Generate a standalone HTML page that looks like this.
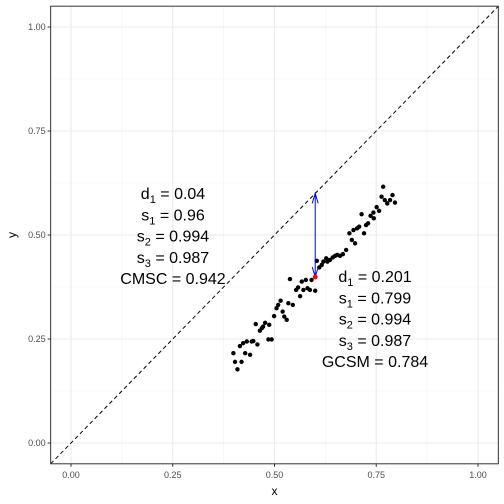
<!DOCTYPE html>
<html><head><meta charset="utf-8"><style>
body{margin:0;background:#fff}
svg{display:block;font-family:"Liberation Sans",sans-serif}
</style></head><body>
<svg id="chart" width="504" height="504" viewBox="0 0 504 504"></svg>
<script>
const xs=[0.399,0.403,0.409,0.419,0.415,0.428,0.423,0.432,0.440,0.444,0.448,0.458,0.454,0.464,0.469,0.472,0.477,0.487,0.485,0.493,0.499,0.505,0.509,0.515,0.520,0.524,0.530,0.534,0.545,0.538,0.553,0.558,0.563,0.567,0.571,0.577,0.581,0.587,0.591,0.600,0.604,0.610,0.616,0.620,0.627,0.630,0.636,0.643,0.649,0.654,0.661,0.668,0.676,0.684,0.690,0.694,0.698,0.703,0.708,0.714,0.720,0.725,0.730,0.736,0.743,0.744,0.751,0.757,0.763,0.767,0.771,0.777,0.784,0.790,0.796];
const ys=[0.216,0.195,0.177,0.195,0.233,0.216,0.240,0.244,0.212,0.244,0.245,0.237,0.286,0.270,0.276,0.280,0.289,0.284,0.249,0.249,0.305,0.324,0.332,0.342,0.316,0.304,0.296,0.336,0.332,0.394,0.368,0.374,0.353,0.388,0.368,0.392,0.372,0.368,0.392,0.366,0.438,0.422,0.428,0.436,0.444,0.436,0.440,0.446,0.450,0.452,0.450,0.454,0.464,0.504,0.488,0.512,0.480,0.516,0.520,0.550,0.504,0.524,0.528,0.546,0.554,0.540,0.567,0.558,0.592,0.616,0.584,0.576,0.584,0.596,0.578];
const ticks=[0,0.25,0.5,0.75,1];
const tickLabels=["0.00","0.25","0.50","0.75","1.00"];
const redPoint=[0.6,0.399];
const arrowTop=0.6;
const leftText=[["d","1","0.04"],["s","1","0.96"],["s","2","0.994"],["s","3","0.987"],["CMSC","","0.942"]];
const rightText=[["d","1","0.201"],["s","1","0.799"],["s","2","0.994"],["s","3","0.987"],["GCSM","","0.784"]];
const X=v=>71+v*407, Y=v=>443-v*416;
const L=X(-0.05),R=X(1.05),T=Y(1.05),B=Y(-0.05);
const svg=document.getElementById('chart');const NS='http://www.w3.org/2000/svg';
function mk(t,a,p){const e=document.createElementNS(NS,t);for(const k in a)e.setAttribute(k,a[k]);(p||svg).appendChild(e);return e;}
let e;
// minor grid
for(let i=0;i<4;i++){const m=(ticks[i]+ticks[i+1])/2;
e=mk('line',{x1:X(m),x2:X(m),y1:T,y2:B,stroke:'#f2f2f2','stroke-width':0.6});

e=mk('line',{x1:L,x2:R,y1:Y(m),y2:Y(m),stroke:'#f2f2f2','stroke-width':0.6});
}
ticks.forEach((t,i)=>{
e=mk('line',{x1:X(t),x2:X(t),y1:T,y2:B,stroke:'#ebebeb','stroke-width':1.1});

e=mk('line',{x1:L,x2:R,y1:Y(t),y2:Y(t),stroke:'#ebebeb','stroke-width':1.1});

e=mk('line',{x1:X(t),x2:X(t),y1:B,y2:B+3,stroke:'#333'});

e=mk('line',{x1:L-3,x2:L,y1:Y(t),y2:Y(t),stroke:'#333'});

e=mk('text',{x:X(t),y:B+14,'text-anchor':'middle','font-size':9,fill:'#4d4d4d'});e.textContent=tickLabels[i];

e=mk('text',{x:L-5,y:Y(t)+3,'text-anchor':'end','font-size':9,fill:'#4d4d4d'});e.textContent=tickLabels[i];

});
e=mk('line',{x1:L,y1:Y(-0.05*416/407+0),x2:R,y2:Y(1.05),stroke:'#000','stroke-dasharray':'4,3','stroke-width':1});
e.setAttribute('x1',X(-0.05));e.setAttribute('y1',Y(-0.05));e.setAttribute('x2',X(1.05));e.setAttribute('y2',Y(1.05));

xs.forEach((x,i)=>{e=mk('circle',{cx:X(x),cy:Y(ys[i]),r:2.2,fill:'#000'});
});
const ax=X(redPoint[0]),ay1=Y(arrowTop),ay2=Y(redPoint[1]);
e=mk('path',{d:`M${ax},${ay1}V${ay2}M${ax-3},${ay1+10}L${ax},${ay1}L${ax+3},${ay1+10}M${ax-3},${ay2-10}L${ax},${ay2}L${ax+3},${ay2-10}`,stroke:'#0000ff',fill:'none','stroke-width':1});

e=mk('circle',{cx:ax,cy:ay2,r:2.4,fill:'#ff0000'});

e=mk('rect',{x:L,y:T,width:R-L,height:B-T,fill:'none',stroke:'#333','stroke-width':1});

function block(lines,cx,y0,name){lines.forEach((l,i)=>{
e=mk('text',{x:cx,y:y0+i*21.3,'text-anchor':'middle','font-size':16,fill:'#000'});

const a=mk('tspan',{},e);a.textContent=l[0];
if(l[1]){const s=mk('tspan',{dy:4,'font-size':11},e);s.textContent=l[1];const b=mk('tspan',{dy:-4},e);b.textContent=' = '+l[2];}
else{const b=mk('tspan',{},e);b.textContent=' = '+l[2];}
});}
block(leftText,173,199,'cmsc-annotation');
block(rightText,375,282,'gcsm-annotation');
e=mk('text',{x:(L+R)/2,y:495,'text-anchor':'middle','font-size':12,fill:'#000'});e.textContent='x';

e=mk('text',{x:16,y:(T+B)/2,'text-anchor':'middle','font-size':12,fill:'#000',transform:`rotate(-90 16 ${(T+B)/2})`});e.textContent='y';

</script>
</body></html>
